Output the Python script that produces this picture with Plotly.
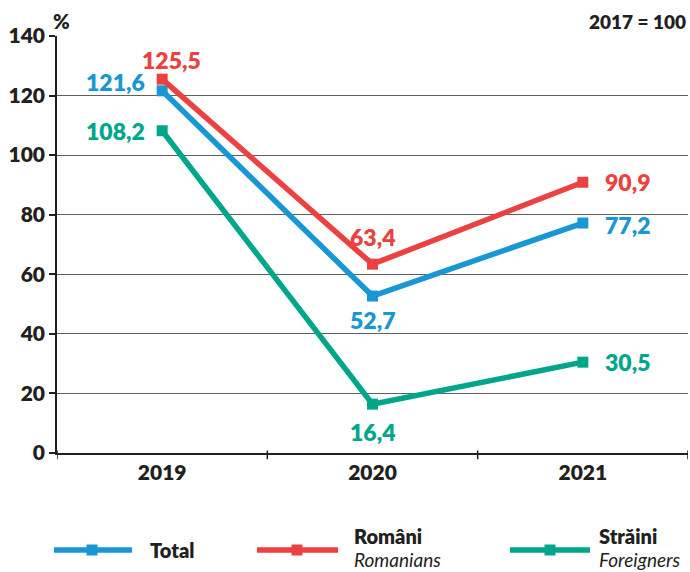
import plotly.graph_objects as go

years = ["2019", "2020", "2021"]
total = [121.6, 52.7, 77.2]
romani = [125.5, 63.4, 90.9]
straini = [108.2, 16.4, 30.5]
y_ticks = [0, 20, 40, 60, 80, 100, 120, 140]

BLUE = "#1996d4"
RED = "#eb4140"
GREEN = "#00a68a"
INK = "#231f20"
FONT = "Lato"
WB = 800

W, H = 690, 572
ML, MR, MT, MB = 57, 2, 36, 119
pw = W - ML - MR
ph = H - MT - MB


def px(xp):
    return (xp - ML) / pw


def py(yp):
    return (H - MB - yp) / ph


def fmt(v):
    return f"{v:.1f}".replace(".", ",")


fig = go.Figure()
for vals, col in [(straini, GREEN), (total, BLUE), (romani, RED)]:
    fig.add_trace(go.Scatter(
        x=[0, 1, 2], y=vals, mode="lines+markers",
        line=dict(color=col, width=5.5),
        marker=dict(symbol="square", size=11, color=col),
        showlegend=False, hoverinfo="skip", cliponaxis=False))

label_cfg = [
    (total, BLUE, [("right", -15, 9), ("center", 0, -24), ("left", 20, -2)]),
    (romani, RED, [("center", 9, 19), ("center", 0, 27), ("left", 20, 0)]),
    (straini, GREEN, [("right", -15, 0), ("center", 0, -28), ("left", 20, 0)]),
]
for vals, col, cfg in label_cfg:
    for i, (v, (xa, xs, ys)) in enumerate(zip(vals, cfg)):
        fig.add_annotation(x=i, y=v, xref="x", yref="y", text=fmt(v),
                           showarrow=False, xanchor=xa, yanchor="middle",
                           xshift=xs, yshift=ys,
                           font=dict(family=FONT, size=23, color=col, weight=WB))

fig.update_xaxes(range=[-0.5, 2.5], tickvals=[0, 1, 2], ticktext=years,
                 showgrid=False, showline=True, linecolor=INK, linewidth=2,
                 ticks="", tickfont=dict(family=FONT, size=21, color=INK, weight=WB),
                 zeroline=False, fixedrange=True, automargin=False)
for b in [-0.5, 0.5, 1.5, 2.5]:
    fig.add_shape(type="line", xref="x", yref="paper", x0=b, x1=b, y0=-0.015, y1=0.006,
                  line=dict(color=INK, width=1.5))

fig.update_yaxes(range=[0, 140], tickvals=y_ticks, ticktext=[str(t) for t in y_ticks],
                 showgrid=True, gridcolor="#5f6062", gridwidth=1.3,
                 showline=True, linecolor=INK, linewidth=1.5,
                 ticks="outside", ticklen=6, tickcolor=INK, tickwidth=1.5,
                 tickfont=dict(family=FONT, size=21, color=INK, weight=WB),
                 zeroline=False, fixedrange=True, automargin=False)

fig.update_layout(
    width=W, height=H,
    margin=dict(l=ML, r=MR, t=MT, b=MB, autoexpand=False),
    plot_bgcolor="white", paper_bgcolor="white",
    font=dict(family=FONT, color=INK),
)

fig.add_annotation(x=px(51), y=py(21), xref="paper", yref="paper", text="%",
                   showarrow=False, xanchor="left", yanchor="middle",
                   font=dict(family=FONT, size=20, color=INK, weight=WB))
fig.add_annotation(x=px(688), y=py(21), xref="paper", yref="paper", text="2017 = 100",
                   showarrow=False, xanchor="right", yanchor="middle",
                   font=dict(family=FONT, size=19, color=INK, weight=WB))

legend_items = [
    (BLUE, 54, 132, 92, 148, "Total", None),
    (RED, 257, 338, 297, 352, "Români", "Romanians"),
    (GREEN, 510, 590, 550, 597, "Străini", "Foreigners"),
]
ly = 550
for col, x0, x1, xm, xt, t1, t2 in legend_items:
    fig.add_shape(type="line", xref="paper", yref="paper", x0=px(x0), x1=px(x1), y0=py(ly), y1=py(ly),
                  line=dict(color=col, width=5.5))
    fig.add_shape(type="rect", xref="paper", yref="paper", x0=px(xm - 5.5), x1=px(xm + 5.5),
                  y0=py(ly + 5.5), y1=py(ly - 5.5), fillcolor=col, line=dict(width=0))
    if t2 is None:
        fig.add_annotation(x=px(xt), y=py(ly), xref="paper", yref="paper", text=t1, showarrow=False,
                           xanchor="left", yanchor="middle",
                           font=dict(family=FONT, size=20, color=INK, weight=WB))
    else:
        fig.add_annotation(x=px(xt), y=py(536), xref="paper", yref="paper", text=t1, showarrow=False,
                           xanchor="left", yanchor="middle",
                           font=dict(family=FONT, size=20, color=INK, weight=WB))
        fig.add_annotation(x=px(xt), y=py(559), xref="paper", yref="paper", text=t2, showarrow=False,
                           xanchor="left", yanchor="middle",
                           font=dict(family=FONT, size=19, color=INK, style="italic"))

fig.write_html("out.html", config={"displayModeBar": False},
               post_script="document.body.style.margin='0';document.body.style.padding='0';")
